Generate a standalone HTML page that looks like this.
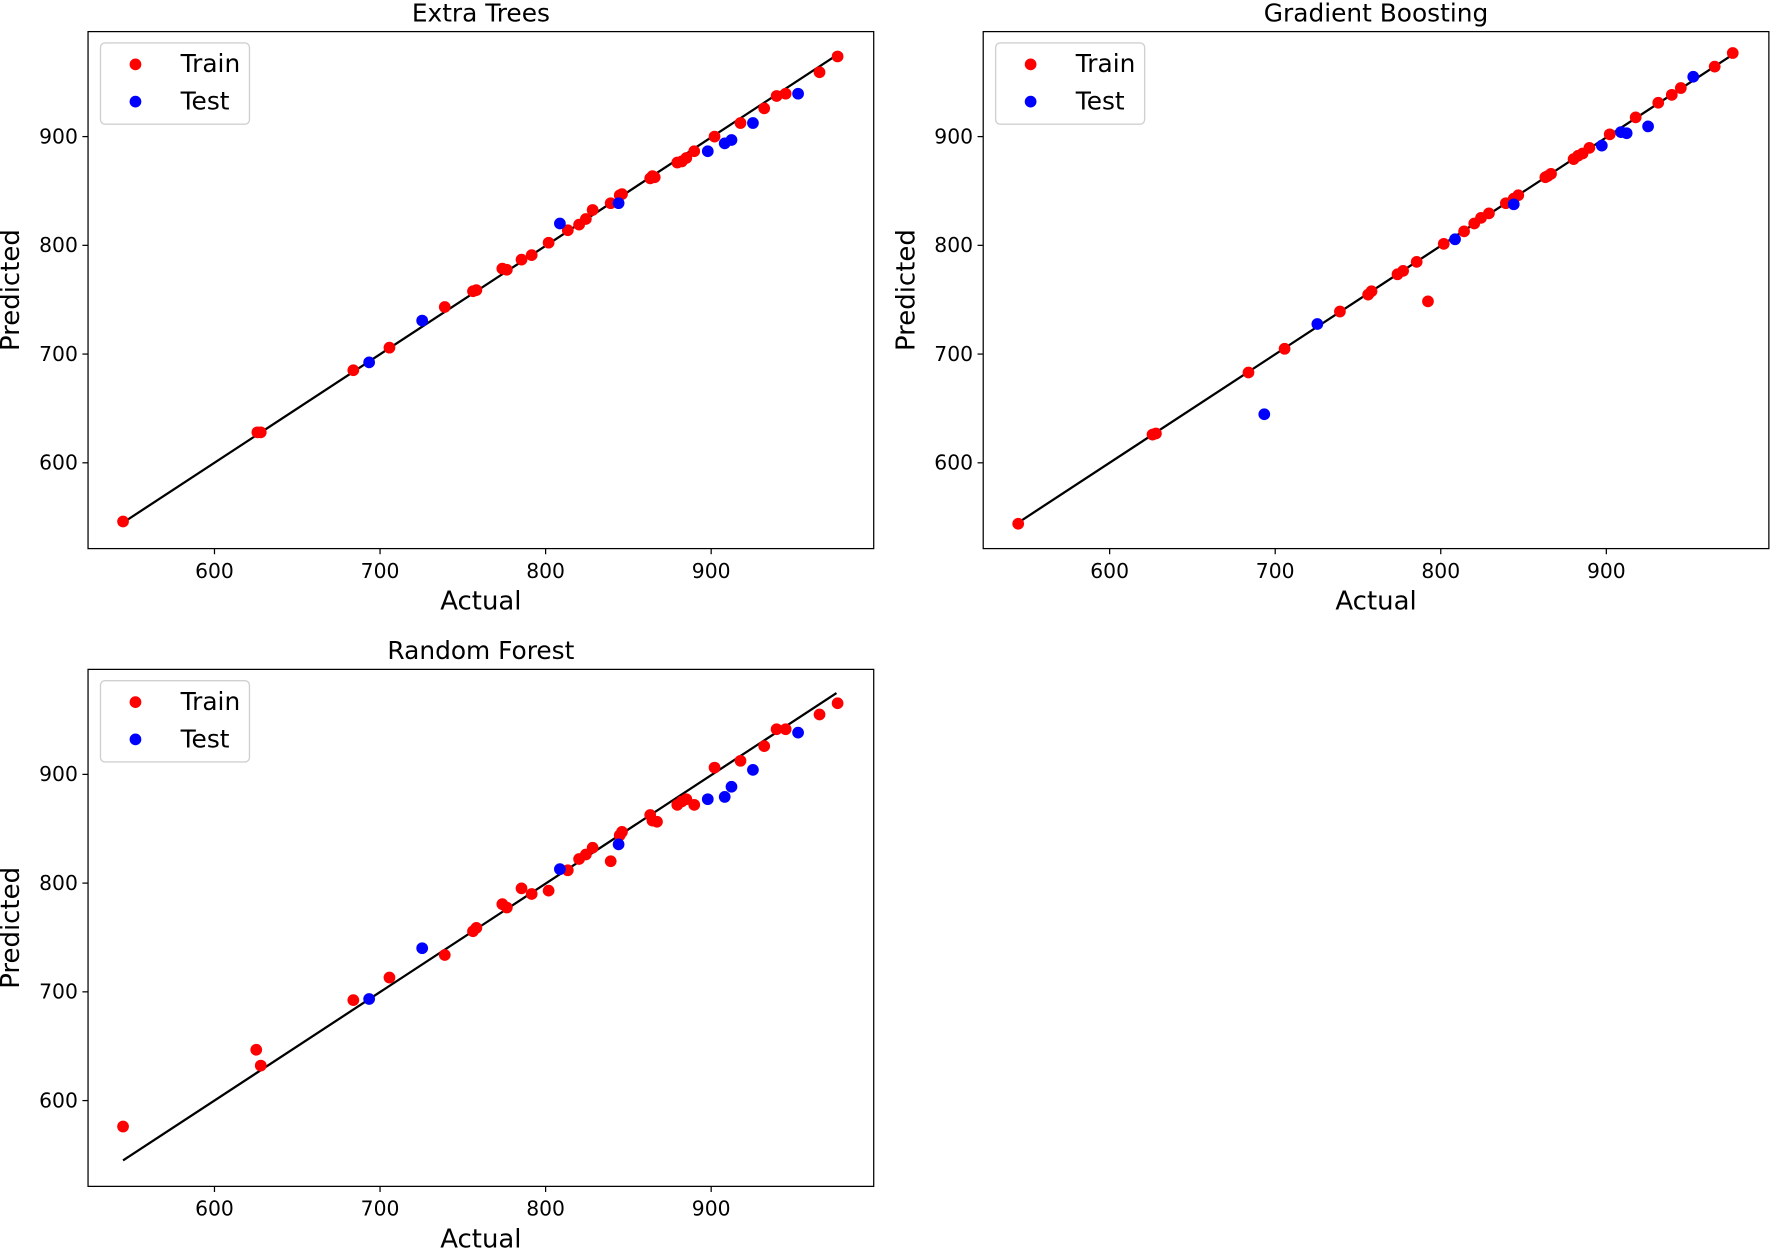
<!DOCTYPE html>
<html><head><meta charset="utf-8"><style>html,body{margin:0;padding:0;background:#fff}svg{display:block}</style></head>
<body>
<svg id="s" xmlns="http://www.w3.org/2000/svg" width="1770" height="1248" viewBox="0 0 1568 1105.6" preserveAspectRatio="none" font-family="'DejaVu Sans','Liberation Sans',sans-serif">
<rect width="1568" height="1105.6" fill="#fff"/>
<g id="g"></g>
</svg>
<script>
var NS="http://www.w3.org/2000/svg",g=document.getElementById('g');
function el(t,a,txt){var e=document.createElementNS(NS,t);for(var k in a)e.setAttribute(k,a[k]);if(txt!==undefined)e.textContent=txt;g.appendChild(e);return e;}
var r1=[[109,462],[228,383],[231,383],[313,328],[345,308],[394,272],[419,258],[422,257],[445,238],[449,239],[462,230],[471,226],[486,215],[503,204],[513,199],[519,194],[525,186],[541,180],[549,173],[551,172],[576,158],[578,156],[580,157],[600,144],[604,143],[608,140],[615,134],[633,121],[656,109],[677,96],[688,85],[696,83],[726,64],[742,50]];
var b1=[[327,321],[374,284],[496,198],[548,180],[627,134],[642,127],[648,124],[667,109],[707,83]];
var r2=[[902,464],[1021,385],[1024,384],[1106,330],[1138,309],[1187,276],[1212,261],[1215,258],[1238,243],[1243,240],[1255,232],[1265,267],[1279,216],[1297,205],[1306,198],[1312,193],[1319,189],[1334,180],[1341,176],[1345,173],[1369,157],[1371,156],[1374,154],[1394,141],[1398,138],[1402,136],[1408,131],[1426,119],[1449,104],[1469,91],[1481,84],[1489,78],[1519,59],[1535,47]];
var b2=[[1120,367],[1167,287],[1289,212],[1341,181],[1419,129],[1436,117],[1441,118],[1460,112],[1500,68]];
var r3=[[109,998],[227,930],[231,944],[313,886],[345,866],[394,846],[419,825],[422,822],[445,801],[449,804],[462,787],[471,792],[486,789],[503,771],[513,761],[519,757],[525,751],[541,763],[549,740],[551,737],[576,722],[578,727],[582,728],[600,713],[604,710],[608,708],[615,713],[633,680],[656,674],[677,661],[688,646],[696,646],[726,633],[742,623]];
var b3=[[327,885],[374,840],[496,770],[548,748],[627,708],[642,706],[648,697],[667,682],[707,649]];
function panel(ox,oy,title,reds,blues){
  var L=78+ox,T=28+oy,W=696,H=458;
  el('text',{x:L+W/2,y:T-9,'text-anchor':'middle','font-size':22},title);
  el('line',{x1:109+ox,y1:463+oy,x2:741+ox,y2:49+oy,stroke:'#000','stroke-width':2});
  reds.forEach(function(p){el('circle',{cx:p[0],cy:p[1],r:5.2,fill:'#f00'});});
  blues.forEach(function(p){el('circle',{cx:p[0],cy:p[1],r:5.2,fill:'#00f'});});
  el('rect',{x:L,y:T,width:W,height:H,fill:'none',stroke:'#000','stroke-width':1.1});
  [600,700,800,900].forEach(function(v,i){
    var x=190+ox+(v-600)*1.4667;
    el('line',{x1:x,y1:T+H,x2:x,y2:T+H+5,stroke:'#000','stroke-width':1.1});
    el('text',{x:x,y:T+H+26,'text-anchor':'middle','font-size':18},v);
    var y=410+oy-(v-600)*0.9633;
    el('line',{x1:L-5,y1:y,x2:L,y2:y,stroke:'#000','stroke-width':1.1});
    el('text',{x:L-9,y:y+6,'text-anchor':'end','font-size':18},v);
  });
  el('text',{x:L+W/2,y:T+H+54,'text-anchor':'middle','font-size':23},'Actual');
  var cy=T+H/2;
  el('text',{x:0,y:0,'text-anchor':'middle','font-size':23,transform:'translate('+(L-61)+','+cy+') rotate(-90)'},'Predicted');
  el('rect',{x:L+11,y:T+10,width:132,height:72,rx:4,fill:'#fff','fill-opacity':0.8,stroke:'#d0d0d0','stroke-width':1.2});
  el('circle',{cx:L+42,cy:T+29,r:5.2,fill:'#f00'});
  el('circle',{cx:L+42,cy:T+62,r:5.2,fill:'#00f'});
  el('text',{x:L+82,y:T+36,'font-size':22},'Train');
  el('text',{x:L+82,y:T+69,'font-size':22},'Test');
}
panel(0,0,'Extra Trees',r1,b1);
panel(793,0,'Gradient Boosting',r2,b2);
panel(0,565,'Random Forest',r3,b3);
</script>
</body></html>
